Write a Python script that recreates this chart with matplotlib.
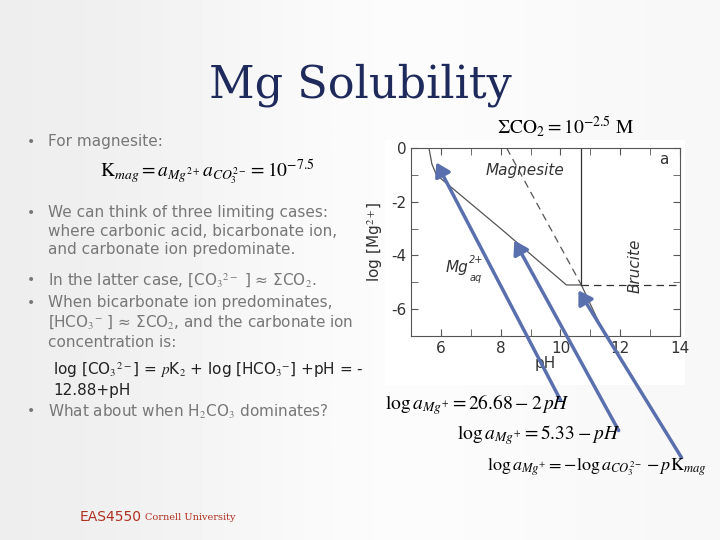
import matplotlib
matplotlib.use("Agg")
import matplotlib.pyplot as plt
from matplotlib.patches import FancyArrowPatch

plt.rcParams['mathtext.fontset'] = 'stix'
plt.rcParams['axes.unicode_minus'] = False

# Solubility boundary data (pH, log[Mg2+])
sol_ph = [5.6, 5.7, 5.85, 8.0, 10.2, 10.7]
sol_mg = [0.0, -0.6, -1.0, -3.0, -5.1, -5.1]
brucite_dash_ph = [10.7, 14.0]
brucite_dash_mg = [-5.1, -5.1]
dash_ph = [8.2, 10.7]
dash_mg = [0.0, -5.1]
tail_ph = [10.7, 11.5]
tail_mg = [-5.1, -7.0]
vert_ph = [10.7, 10.7]
vert_mg = [0.0, -5.1]
xticks = [6, 8, 10, 12, 14]
yticks = [0, -2, -4, -6]

W, H = 720, 540
fig = plt.figure(figsize=(7.2, 5.4), dpi=100)
bg = fig.add_axes([0, 0, 1, 1], zorder=-5)
bg.imshow([[0.93, 1.0, 0.97]], cmap='gray', vmin=0, vmax=1, aspect='auto',
          extent=[0, 1, 0, 1], interpolation='bicubic')
bg.axis('off')

fig.text(360/W, 1-85/H, "Mg Solubility", ha='center', va='center',
         fontsize=32, family='DejaVu Serif', color='#1f2a5c')

# white plot backdrop
wp = fig.add_axes([385/W, 1-385/H, 300/W, 245/H], zorder=-1)
wp.set_facecolor('white'); wp.set_xticks([]); wp.set_yticks([])
for s in wp.spines.values(): s.set_visible(False)

ax = fig.add_axes([411/W, 1-336/H, 269/W, 188/H])
ax.plot(sol_ph, sol_mg, color='#555555', lw=0.9)
ax.plot(brucite_dash_ph, brucite_dash_mg, color='#333333', lw=0.9, ls=(0, (6, 4)))
ax.plot(dash_ph, dash_mg, color='#555555', lw=0.9, ls=(0, (6, 4)))
ax.plot(tail_ph, tail_mg, color='#555555', lw=0.9)
ax.plot(vert_ph, vert_mg, color='#333333', lw=0.9)
ax.set_xlim(5, 14); ax.set_ylim(-7, 0)
ax.set_xticks(xticks); ax.set_yticks(yticks)
ax.set_xticks([7, 9, 11, 13], minor=True); ax.set_yticks([-1, -3, -5], minor=True)
ax.tick_params(which='both', direction='in', top=True, right=True, labelsize=11, length=5,
               labelcolor='#333333', color='#555555')
for s in ax.spines.values(): s.set_color('#555555')
ax.set_xlabel("pH", fontsize=11, labelpad=0, color='#333333')
ax.set_ylabel(r"log [Mg$^{2+}$]", fontsize=11, color='#333333')
ax.text(7.5, -1.0, "Magnesite", style='italic', fontsize=11, color='#333333')
ax.text(6.15, -4.6, "Mg", style='italic', fontsize=11, color='#333333')
ax.text(6.95, -4.3, "2+", style='italic', fontsize=7, color='#333333')
ax.text(6.95, -4.95, "aq", style='italic', fontsize=7, color='#333333')
ax.text(12.5, -5.3, "Brucite", style='italic', fontsize=11, rotation=90, ha='center', color='#333333')
ax.text(13.3, -0.6, "a", fontsize=11, color='#333333')

fig.text(565/W, 1-127/H, r"$\Sigma\mathrm{CO}_2 = 10^{-2.5}\ \mathrm{M}$", fontsize=14, ha='center', va='center')

# Bullets
grey = '#777777'
bul = [(142, "For magnesite:"), (213, "We can think of three limiting cases:\nwhere carbonic acid, bicarbonate ion,\nand carbonate ion predominate."),
       (280, r"In the latter case, [CO$_3$$^{2-}$ ] ≈ ΣCO$_2$."),
       (303, "When bicarbonate ion predominates,\n" + r"[HCO$_3$$^{-}$ ] ≈ ΣCO$_2$, and the carbonate ion" + "\nconcentration is:"),
       (411, r"What about when H$_2$CO$_3$ dominates?")]
for y, t in bul:
    fig.text(27/W, 1-y/H, "•", fontsize=10, color=grey, va='center')
    fig.text(48/W, 1-(y-8)/H, t, fontsize=11, color=grey, va='top', linespacing=1.3)
fig.text(53/W, 1-360/H, r"log [CO$_3$$^{2-}$] = $p$K$_2$ + log [HCO$_3$$^{-}$] +pH = -" + "\n12.88+pH",
         fontsize=11, color='#222222', va='top', linespacing=1.3)
fig.text(100/W, 1-172/H, r"$\mathrm{K}_{mag} = a_{Mg^{2+}} a_{CO_3^{2-}} = 10^{-7.5}$", fontsize=14, va='center')

fig.text(385/W, 1-405/H, r"$\log a_{Mg^{+}} = 26.68 - 2\,pH$", fontsize=14, va='center')
fig.text(457/W, 1-435/H, r"$\log a_{Mg^{+}} = 5.33 - pH$", fontsize=14, va='center')
fig.text(487/W, 1-467/H, r"$\log a_{Mg^{+}} = -\log a_{CO_3^{2-}} - p\mathrm{K}_{mag}$", fontsize=13, va='center')

for (x0, y0), (x1, y1) in [((562, 403), (435, 160)), ((620, 433), (513, 238)), ((683, 460), (577, 288))]:
    fig.patches.append(FancyArrowPatch((x0/W, 1-y0/H), (x1/W, 1-y1/H), transform=fig.transFigure,
                                       arrowstyle='-|>,head_length=4,head_width=2.5', color='#5a6fae', lw=2.5,
                                       mutation_scale=2))

fig.text(80/W, 1-517/H, "EAS4550", fontsize=10, color='#b03020', va='center')
fig.text(145/W, 1-517/H, "Cornell University", fontsize=7, color='#b03020', va='center', family='DejaVu Serif')
fig.savefig("out.png", dpi=100)
